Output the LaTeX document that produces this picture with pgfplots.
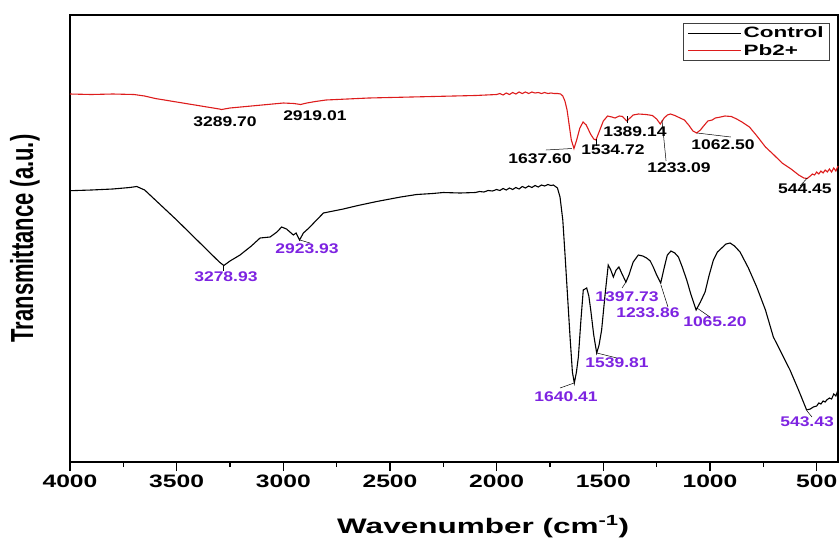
\documentclass[border=0pt]{standalone}
\usepackage{fontspec}
\setmainfont{Liberation Sans}
\newfontfamily\tickfont[FakeStretch=1.37]{Liberation Sans}
\newfontfamily\xlabfont[FakeStretch=1.5]{Liberation Sans}
\newfontfamily\legfont[FakeStretch=1.5]{Liberation Sans}
\newfontfamily\peakfont[FakeStretch=1.25]{Liberation Sans}
\usepackage{pgfplots}
\pgfplotsset{compat=1.18}
\definecolor{pbred}{RGB}{221,28,28}
\definecolor{peakviolet}{RGB}{125,35,225}
\tikzset{
  peak/.style={font=\peakfont\bfseries\fontsize{14}{16}\selectfont, inner sep=0pt},
  lead/.style={line width=0.5pt, black}
}

\begin{document}
\begin{tikzpicture}[x=1pt,y=1pt]
\path[use as bounding box] (0,0) rectangle (840,542);
\begin{axis}[
    at={(70pt,80pt)}, anchor=south west,
    scale only axis, width=768pt, height=447pt,
    x dir=reverse, y dir=reverse,
    xmin=400, xmax=4000, ymin=15, ymax=462,
    clip=false,
    axis line style={line width=1.3pt},
    xtick={500,1000,...,4000},
    minor x tick num=1,
    xtick pos=bottom,
    tick align=outside,
    major tick length=9pt, minor tick length=5pt,
    every tick/.style={black, line width=1.2pt},
    ytick=\empty,
    /pgf/number format/assume math mode=true,
    /pgf/number format/1000 sep={},
    xticklabel style={font=\tickfont\bfseries\fontsize{18}{20}\selectfont},
    xlabel={\xlabfont\bfseries\fontsize{21}{24}\selectfont Wavenumber (cm\textsuperscript{-1})},
    xlabel style={at={(axis description cs:0.538,-0.145)}, anchor=center},
    ylabel={\scalebox{1}[1.45]{\bfseries\fontsize{22}{24}\selectfont Transmittance (a.u.)}},
    ylabel style={at={(axis description cs:-0.0586,0.5)}, anchor=center},
    legend style={at={(axis description cs:0.9896,0.983)}, anchor=north east,
        draw=black!75, line width=0.8pt, inner xsep=4pt, inner ysep=2pt,
        font=\legfont\bfseries\fontsize{15}{17}\selectfont,
        row sep=1pt},
    legend cell align=left,
    legend image code/.code={\draw[#1] (0pt,0pt) -- (53pt,0pt);},
]
% Control
\addplot[black, line width=1.1pt] coordinates {
(4000,190.7) (3900,190) (3800,189) (3720,187.5) (3687,186.5) (3650,190) (3600,200)
(3500,220) (3400,241) (3300,262) (3278.9,265.5) (3250,261) (3203,255) (3150,246)
(3109,238) (3062,237) (3030,232) (3008,227) (2985,229) (2969,232) (2953,235)
(2940,233) (2923.9,240) (2906,233) (2880,228) (2844,220) (2812,213) (2719,209)
(2650,205.5) (2562,201.5) (2450,197) (2375,194.5) (2300,193.5) (2250,192.5)
(2172,193) (2100,192.5) (2080,191.5) (2060,192) (2040,190.5) (2020,191)
(2000,189.5) (1985,190.5) (1970,188.5) (1955,190) (1940,188) (1925,189.5)
(1910,187.5) (1895,189) (1880,186.5) (1865,188) (1850,186) (1835,187.5)
(1820,185.5) (1805,187) (1790,185) (1775,186) (1760,184.5) (1745,185.5)
(1734,185) (1715,188) (1703,197) (1690,220) (1680,253) (1668,295)
(1656,337) (1645,372) (1636,383) (1626,372) (1617,357) (1605,320) (1594,290)
(1578,288) (1568,296) (1559,310) (1545,335) (1531,353) (1520,345) (1508,330)
(1492,295) (1477,265) (1465,270) (1453,277) (1440,270) (1427,267) (1410,275)
(1394,282) (1380,275) (1360,262) (1336,255) (1315,256) (1297,258) (1280,261)
(1266,267) (1250,275) (1231,283) (1215,268) (1200,255) (1183,251) (1165,253)
(1148,257) (1130,267) (1109,280) (1090,294) (1065,310) (1045,302) (1023,292)
(1005,276) (984,260) (965,252) (945,248) (925,244) (906,243) (885,246) (859,252)
(820,268) (781,287) (740,310) (703,337) (665,353) (625,370) (585,390) (547,410)
(530,409) (516,407) (500,406) (490,403) (480,404) (470,401) (460,402) (453,400)
(440,398) (430,399) (420,394) (410,396) (400,390)
};
\addlegendentry{Control}
% Pb2+
\addplot[pbred, line width=1.1pt] coordinates {
(4000,94) (3900,94.5) (3800,94) (3700,94.5) (3650,96) (3600,98.5) (3500,102)
(3400,105.5) (3300,109) (3289.7,109.5) (3250,108) (3200,107) (3100,105) (3000,103)
(2950,103.5) (2919,104.5) (2890,103) (2850,101.5) (2800,100) (2700,99) (2600,98)
(2500,97.5) (2400,97) (2300,96.5) (2200,96) (2100,95.5) (2050,95) (2000,94.5)
(1985,93.5) (1970,95) (1955,93) (1940,94.5) (1925,92.5) (1910,94) (1895,92)
(1880,93.5) (1865,92) (1850,93.5) (1835,92) (1820,93) (1805,92.5) (1790,93.5)
(1775,92.5) (1760,93.5) (1745,93) (1730,93.5) (1715,93.5) (1700,94)
(1690,96) (1680,101) (1670,110) (1660,125) (1650,140) (1637.6,148.5) (1625,140)
(1610,128) (1595,122) (1580,125) (1560,134) (1545,139) (1534.7,140) (1520,132)
(1500,121) (1480,116) (1460,117) (1445,118) (1425,116) (1410,116.5) (1395,120)
(1389,121) (1380,119) (1360,115) (1335,114) (1300,114.5) (1270,115.5) (1250,119)
(1233,124) (1215,118) (1200,115) (1186,114) (1165,115.5) (1150,117) (1120,120)
(1100,125) (1080,131) (1062.5,133) (1045,130) (1030,126) (1010,121) (990,120)
(975,118) (950,117) (930,116) (900,116.5) (875,119) (850,122) (815,127) (780,136)
(740,147) (700,155) (662,163) (620,169) (584,175) (560,178) (544.45,178.5)
(530,176) (520,174) (510,175) (500,172) (490,174) (480,171) (470,173) (460,170)
(450,172) (440,169) (430,172) (420,168) (410,171) (400,166)
};
\addlegendentry{Pb2+}

% peak labels, Pb2+
\node[peak] at (axis cs:3273,122) {3289.70};
\node[peak] at (axis cs:2852,116) {2919.01};
\node[peak] at (axis cs:1797,159) {1637.60};
\draw[lead] (axis cs:1769,150) -- (axis cs:1647,148.5);
\node[peak] at (axis cs:1455,150) {1534.72};
\draw[lead] (axis cs:1532,139) -- (axis cs:1532,146);
\node[peak] at (axis cs:1352,132) {1389.14};
\draw[lead] (axis cs:1389,116) -- (axis cs:1389,123);
\node[peak] at (axis cs:1145,168) {1233.09};
\draw[lead] (axis cs:1225,120) -- (axis cs:1206,161);
\node[peak] at (axis cs:939,145) {1062.50};
\draw[lead] (axis cs:1061,133) -- (axis cs:902,137);
\node[peak] at (axis cs:555,189) {544.45};
\draw[lead] (axis cs:544,178) -- (axis cs:578,186);

% peak labels, Control
\begin{scope}[every node/.append style={text=peakviolet}]
\node[peak] at (axis cs:3269,277) {3278.93};
\draw[lead] (axis cs:3283,265.5) -- (axis cs:3283,271);
\node[peak] at (axis cs:2889,249) {2923.93};
\draw[lead] (axis cs:2922,240) -- (axis cs:2875,243);
\node[peak] at (axis cs:1389,297) {1397.73};
\draw[lead] (axis cs:1394,282) -- (axis cs:1412,288);
\node[peak] at (axis cs:1291,313) {1233.86};
\draw[lead] (axis cs:1230,285) -- (axis cs:1197,307);
\node[peak] at (axis cs:977,322) {1065.20};
\draw[lead] (axis cs:1061,308) -- (axis cs:1000,317);
\node[peak] at (axis cs:1436,363) {1539.81};
\draw[lead] (axis cs:1530,353) -- (axis cs:1436,358);
\node[peak] at (axis cs:1675,397) {1640.41};
\draw[lead] (axis cs:1637,383) -- (axis cs:1703,388);
\node[peak] at (axis cs:545,422) {543.43};
\draw[lead] (axis cs:545,411) -- (axis cs:522,417);
\end{scope}
\end{axis}
\end{tikzpicture}
\end{document}
